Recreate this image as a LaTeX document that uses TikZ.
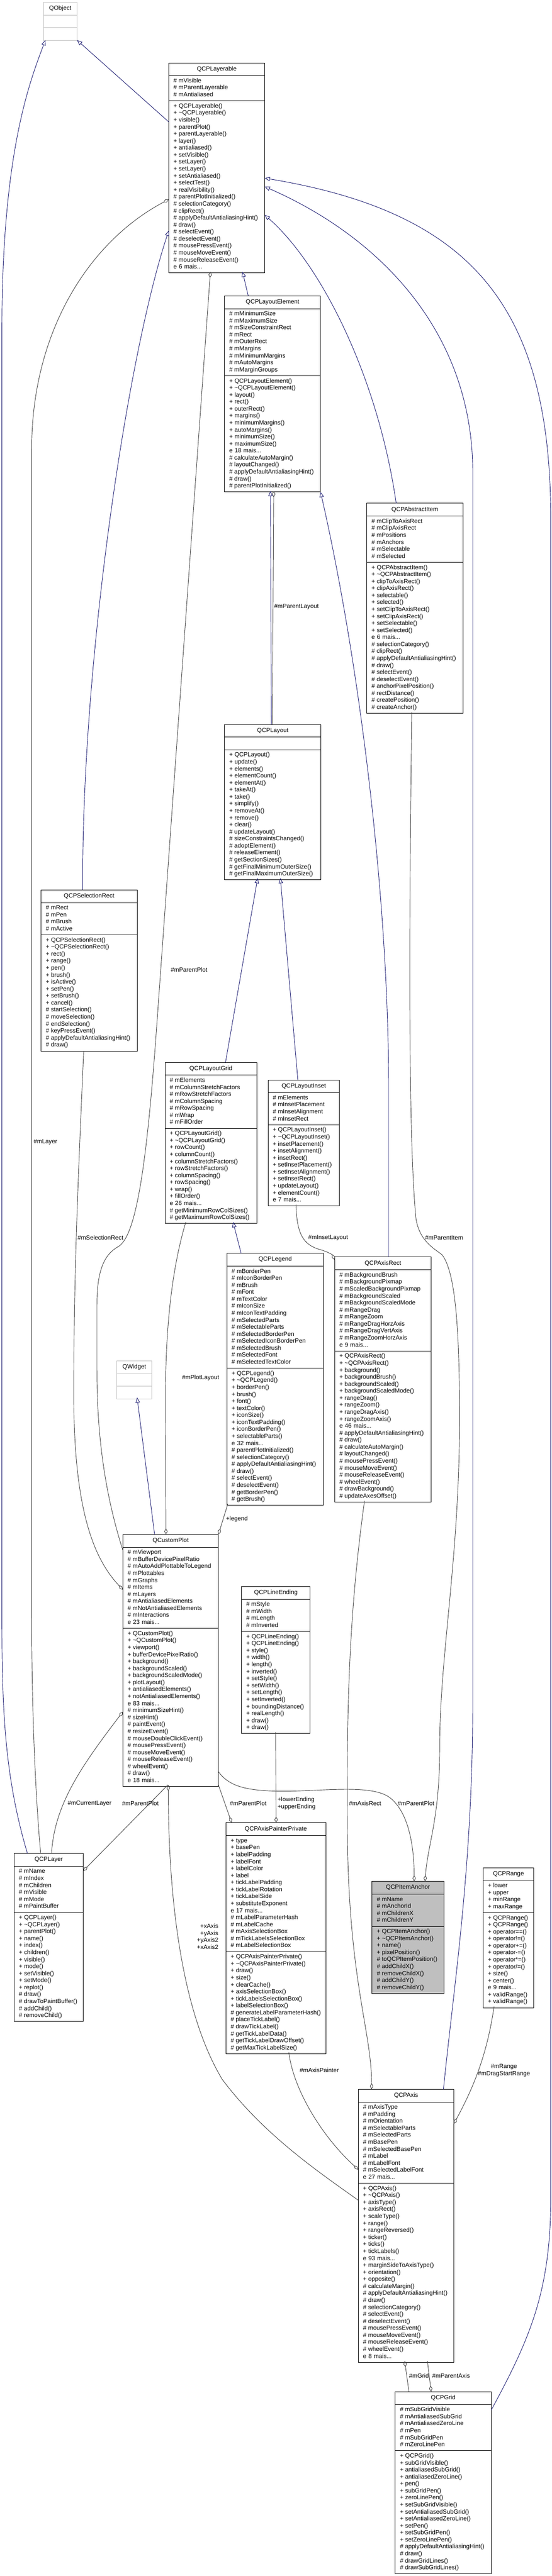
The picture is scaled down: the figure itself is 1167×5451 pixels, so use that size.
\documentclass[tikz,border=0pt]{standalone}
\usepackage{fontspec}
\setmainfont{Liberation Sans}
\usetikzlibrary{arrows.meta,shapes.multipart}
\definecolor{inhblue}{HTML}{191970}
\definecolor{agggray}{HTML}{404040}
\definecolor{extgray}{HTML}{BFBFBF}
\definecolor{focusgray}{HTML}{BFBFBF}
\newcommand\ttl[1]{\hfill\rule[-6pt]{0pt}{18pt}#1\hfill\null}
\newcommand\emp{\rule{0pt}{17.5pt}}
\newcommand\mprot{\#\kern.28em\relax}
\newcommand\mpub{+\kern.28em\relax}
\newcommand\dtor{\textasciitilde}
\tikzset{
  cls/.style={rectangle split, rectangle split parts=3, draw=black, fill=white, line width=1pt,
    anchor=north west, outer sep=0pt, inner xsep=10pt, inner ysep=4pt, align=left,
    font=\fontsize{12.8}{14.8}\selectfont},
  ext/.style={draw=extgray},
  focus/.style={fill=focusgray},
  inh/.style={draw=inhblue, line width=1pt, -{Triangle[open,length=11pt,width=9pt]}},
  agg/.style={draw=agggray, line width=1pt, -{Diamond[open,length=13pt,width=7pt]}},
  lbl/.style={inner sep=0pt, anchor=west, font=\fontsize{12.8}{14.8}\selectfont}
}
\begin{document}
\begin{tikzpicture}[x=1pt,y=-1pt]
\useasboundingbox (0,0) rectangle (1167,5451);

\node[cls,ext,text width=51pt] (QObject) at (92,5) {\ttl{QObject}\nodepart{two}\emp\nodepart{three}\emp};

\node[cls,text width=183pt] (Layerable) at (357,133) {\ttl{QCPLayerable}\nodepart{two}\strut\mprot mVisible\\\mprot mParentLayerable\\\mprot mAntialiased\strut
  \nodepart{three}\strut\mpub QCPLayerable()\\\mpub\dtor QCPLayerable()\\\mpub visible()\\\mpub parentPlot()\\\mpub parentLayerable()\\\mpub layer()\\\mpub antialiased()\\\mpub setVisible()\\\mpub setLayer()\\\mpub setLayer()\\\mpub setAntialiased()\\\mpub selectTest()\\\mpub realVisibility()\\\mprot parentPlotInitialized()\\\mprot selectionCategory()\\\mprot clipRect()\\\mprot applyDefaultAntialiasingHint()\\\mprot draw()\\\mprot selectEvent()\\\mprot deselectEvent()\\\mprot mousePressEvent()\\\mprot mouseMoveEvent()\\\mprot mouseReleaseEvent()\\e 6 mais...\strut};

\node[cls,text width=183pt] (LayoutElement) at (475,626) {\ttl{QCPLayoutElement}\nodepart{two}\strut\mprot mMinimumSize\\\mprot mMaximumSize\\\mprot mSizeConstraintRect\\\mprot mRect\\\mprot mOuterRect\\\mprot mMargins\\\mprot mMinimumMargins\\\mprot mAutoMargins\\\mprot mMarginGroups\strut
  \nodepart{three}\strut\mpub QCPLayoutElement()\\\mpub\dtor QCPLayoutElement()\\\mpub layout()\\\mpub rect()\\\mpub outerRect()\\\mpub margins()\\\mpub minimumMargins()\\\mpub autoMargins()\\\mpub minimumSize()\\\mpub maximumSize()\\e 18 mais...\\\mprot calculateAutoMargin()\\\mprot layoutChanged()\\\mprot applyDefaultAntialiasingHint()\\\mprot draw()\\\mprot parentPlotInitialized()\strut};

\node[cls,text width=183pt] (AbstractItem) at (776,1065) {\ttl{QCPAbstractItem}\nodepart{two}\strut\mprot mClipToAxisRect\\\mprot mClipAxisRect\\\mprot mPositions\\\mprot mAnchors\\\mprot mSelectable\\\mprot mSelected\strut
  \nodepart{three}\strut\mpub QCPAbstractItem()\\\mpub\dtor QCPAbstractItem()\\\mpub clipToAxisRect()\\\mpub clipAxisRect()\\\mpub selectable()\\\mpub selected()\\\mpub setClipToAxisRect()\\\mpub setClipAxisRect()\\\mpub setSelectable()\\\mpub setSelected()\\e 6 mais...\\\mprot selectionCategory()\\\mprot clipRect()\\\mprot applyDefaultAntialiasingHint()\\\mprot draw()\\\mprot selectEvent()\\\mprot deselectEvent()\\\mprot anchorPixelPosition()\\\mprot rectDistance()\\\mprot createPosition()\\\mprot createAnchor()\strut};

\node[cls,text width=184pt] (Layout) at (475,1533) {\ttl{QCPLayout}\nodepart{two}\emp
  \nodepart{three}\strut\mpub QCPLayout()\\\mpub update()\\\mpub elements()\\\mpub elementCount()\\\mpub elementAt()\\\mpub takeAt()\\\mpub take()\\\mpub simplify()\\\mpub removeAt()\\\mpub remove()\\\mpub clear()\\\mprot updateLayout()\\\mprot sizeConstraintsChanged()\\\mprot adoptElement()\\\mprot releaseElement()\\\mprot getSectionSizes()\\\mprot getFinalMinimumOuterSize()\\\mprot getFinalMaximumOuterSize()\strut};

\node[cls,text width=183pt] (SelectionRect) at (87,1883) {\ttl{QCPSelectionRect}\nodepart{two}\strut\mprot mRect\\\mprot mPen\\\mprot mBrush\\\mprot mActive\strut
  \nodepart{three}\strut\mpub QCPSelectionRect()\\\mpub\dtor QCPSelectionRect()\\\mpub rect()\\\mpub range()\\\mpub pen()\\\mpub brush()\\\mpub isActive()\\\mpub setPen()\\\mpub setBrush()\\\mpub cancel()\\\mprot startSelection()\\\mprot moveSelection()\\\mprot endSelection()\\\mprot keyPressEvent()\\\mprot applyDefaultAntialiasingHint()\\\mprot draw()\strut};

\node[cls,text width=174pt] (LayoutGrid) at (349,2248) {\ttl{QCPLayoutGrid}\nodepart{two}\strut\mprot mElements\\\mprot mColumnStretchFactors\\\mprot mRowStretchFactors\\\mprot mColumnSpacing\\\mprot mRowSpacing\\\mprot mWrap\\\mprot mFillOrder\strut
  \nodepart{three}\strut\mpub QCPLayoutGrid()\\\mpub\dtor QCPLayoutGrid()\\\mpub rowCount()\\\mpub columnCount()\\\mpub columnStretchFactors()\\\mpub rowStretchFactors()\\\mpub columnSpacing()\\\mpub rowSpacing()\\\mpub wrap()\\\mpub fillOrder()\\e 26 mais...\\\mprot getMinimumRowColSizes()\\\mprot getMaximumRowColSizes()\strut};

\node[cls,text width=131pt] (LayoutInset) at (567,2285) {\ttl{QCPLayoutInset}\nodepart{two}\strut\mprot mElements\\\mprot mInsetPlacement\\\mprot mInsetAlignment\\\mprot mInsetRect\strut
  \nodepart{three}\strut\mpub QCPLayoutInset()\\\mpub\dtor QCPLayoutInset()\\\mpub insetPlacement()\\\mpub insetAlignment()\\\mpub insetRect()\\\mpub setInsetPlacement()\\\mpub setInsetAlignment()\\\mpub setInsetRect()\\\mpub updateLayout()\\\mpub elementCount()\\e 7 mais...\strut};

\node[cls,text width=184pt] (Legend) at (480,2652) {\ttl{QCPLegend}\nodepart{two}\strut\mprot mBorderPen\\\mprot mIconBorderPen\\\mprot mBrush\\\mprot mFont\\\mprot mTextColor\\\mprot mIconSize\\\mprot mIconTextPadding\\\mprot mSelectedParts\\\mprot mSelectableParts\\\mprot mSelectedBorderPen\\\mprot mSelectedIconBorderPen\\\mprot mSelectedBrush\\\mprot mSelectedFont\\\mprot mSelectedTextColor\strut
  \nodepart{three}\strut\mpub QCPLegend()\\\mpub\dtor QCPLegend()\\\mpub borderPen()\\\mpub brush()\\\mpub font()\\\mpub textColor()\\\mpub iconSize()\\\mpub iconTextPadding()\\\mpub iconBorderPen()\\\mpub selectableParts()\\e 32 mais...\\\mprot parentPlotInitialized()\\\mprot selectionCategory()\\\mprot applyDefaultAntialiasingHint()\\\mprot draw()\\\mprot selectEvent()\\\mprot deselectEvent()\\\mprot getBorderPen()\\\mprot getBrush()\strut};

\node[cls,text width=184pt] (AxisRect) at (708,2660) {\ttl{QCPAxisRect}\nodepart{two}\strut\mprot mBackgroundBrush\\\mprot mBackgroundPixmap\\\mprot mScaledBackgroundPixmap\\\mprot mBackgroundScaled\\\mprot mBackgroundScaledMode\\\mprot mRangeDrag\\\mprot mRangeZoom\\\mprot mRangeDragHorzAxis\\\mprot mRangeDragVertAxis\\\mprot mRangeZoomHorzAxis\\e 9 mais...\strut
  \nodepart{three}\strut\mpub QCPAxisRect()\\\mpub\dtor QCPAxisRect()\\\mpub background()\\\mpub backgroundBrush()\\\mpub backgroundScaled()\\\mpub backgroundScaledMode()\\\mpub rangeDrag()\\\mpub rangeZoom()\\\mpub rangeDragAxis()\\\mpub rangeZoomAxis()\\e 46 mais...\\\mprot applyDefaultAntialiasingHint()\\\mprot draw()\\\mprot calculateAutoMargin()\\\mprot layoutChanged()\\\mprot mousePressEvent()\\\mprot mouseMoveEvent()\\\mprot mouseReleaseEvent()\\\mprot wheelEvent()\\\mprot drawBackground()\\\mprot updateAxesOffset()\strut};

\node[cls,ext,text width=54pt] (QWidget) at (247,2880) {\ttl{QWidget}\nodepart{two}\emp\nodepart{three}\emp};

\node[cls,text width=182pt] (CustomPlot) at (260,3247) {\ttl{QCustomPlot}\nodepart{two}\strut\mprot mViewport\\\mprot mBufferDevicePixelRatio\\\mprot mAutoAddPlottableToLegend\\\mprot mPlottables\\\mprot mGraphs\\\mprot mItems\\\mprot mLayers\\\mprot mAntialiasedElements\\\mprot mNotAntialiasedElements\\\mprot mInteractions\\e 23 mais...\strut
  \nodepart{three}\strut\mpub QCustomPlot()\\\mpub\dtor QCustomPlot()\\\mpub viewport()\\\mpub bufferDevicePixelRatio()\\\mpub background()\\\mpub backgroundScaled()\\\mpub backgroundScaledMode()\\\mpub plotLayout()\\\mpub antialiasedElements()\\\mpub notAntialiasedElements()\\e 83 mais...\\\mprot minimumSizeHint()\\\mprot sizeHint()\\\mprot paintEvent()\\\mprot resizeEvent()\\\mprot mouseDoubleClickEvent()\\\mprot mousePressEvent()\\\mprot mouseMoveEvent()\\\mprot mouseReleaseEvent()\\\mprot wheelEvent()\\\mprot draw()\\e 18 mais...\strut};

\node[cls,text width=125pt] (LineEnding) at (511,3357) {\ttl{QCPLineEnding}\nodepart{two}\strut\mprot mStyle\\\mprot mWidth\\\mprot mLength\\\mprot mInverted\strut
  \nodepart{three}\strut\mpub QCPLineEnding()\\\mpub QCPLineEnding()\\\mpub style()\\\mpub width()\\\mpub length()\\\mpub inverted()\\\mpub setStyle()\\\mpub setWidth()\\\mpub setLength()\\\mpub setInverted()\\\mpub boundingDistance()\\\mpub realLength()\\\mpub draw()\\\mpub draw()\strut};

\node[cls,text width=126pt] (Layer) at (30,3922) {\ttl{QCPLayer}\nodepart{two}\strut\mprot mName\\\mprot mIndex\\\mprot mChildren\\\mprot mVisible\\\mprot mMode\\\mprot mPaintBuffer\strut
  \nodepart{three}\strut\mpub QCPLayer()\\\mpub\dtor QCPLayer()\\\mpub parentPlot()\\\mpub name()\\\mpub index()\\\mpub children()\\\mpub visible()\\\mpub mode()\\\mpub setVisible()\\\mpub setMode()\\\mpub replot()\\\mprot draw()\\\mprot drawToPaintBuffer()\\\mprot addChild()\\\mprot removeChild()\strut};

\node[cls,text width=191pt] (AxisPainter) at (478,3857) {\ttl{QCPAxisPainterPrivate}\nodepart{two}\strut\mpub type\\\mpub basePen\\\mpub labelPadding\\\mpub labelFont\\\mpub labelColor\\\mpub label\\\mpub tickLabelPadding\\\mpub tickLabelRotation\\\mpub tickLabelSide\\\mpub substituteExponent\\e 17 mais...\\\mprot mLabelParameterHash\\\mprot mLabelCache\\\mprot mAxisSelectionBox\\\mprot mTickLabelsSelectionBox\\\mprot mLabelSelectionBox\strut
  \nodepart{three}\strut\mpub QCPAxisPainterPrivate()\\\mpub\dtor QCPAxisPainterPrivate()\\\mpub draw()\\\mpub size()\\\mpub clearCache()\\\mpub axisSelectionBox()\\\mpub tickLabelsSelectionBox()\\\mpub labelSelectionBox()\\\mprot generateLabelParameterHash()\\\mprot placeTickLabel()\\\mprot drawTickLabel()\\\mprot getTickLabelData()\\\mprot getTickLabelDrawOffset()\\\mprot getMaxTickLabelSize()\strut};

\node[cls,focus,text width=132pt] (ItemAnchor) at (787,3981) {\ttl{QCPItemAnchor}\nodepart{two}\strut\mprot mName\\\mprot mAnchorId\\\mprot mChildrenX\\\mprot mChildrenY\strut
  \nodepart{three}\strut\mpub QCPItemAnchor()\\\mpub\dtor QCPItemAnchor()\\\mpub name()\\\mpub pixelPosition()\\\mprot toQCPItemPosition()\\\mprot addChildX()\\\mprot removeChildX()\\\mprot addChildY()\\\mprot removeChildY()\strut};

\node[cls,text width=87pt] (Range) at (1022,3952) {\ttl{QCPRange}\nodepart{two}\strut\mpub lower\\\mpub upper\\\mpub minRange\\\mpub maxRange\strut
  \nodepart{three}\strut\mpub QCPRange()\\\mpub QCPRange()\\\mpub operator==()\\\mpub operator!=()\\\mpub operator+=()\\\mpub operator-=()\\\mpub operator*=()\\\mpub operator/=()\\\mpub size()\\\mpub center()\\e 9 mais...\\\mpub validRange()\\\mpub validRange()\strut};

\node[cls,text width=182pt] (Axis) at (758,4421) {\ttl{QCPAxis}\nodepart{two}\strut\mprot mAxisType\\\mprot mPadding\\\mprot mOrientation\\\mprot mSelectableParts\\\mprot mSelectedParts\\\mprot mBasePen\\\mprot mSelectedBasePen\\\mprot mLabel\\\mprot mLabelFont\\\mprot mSelectedLabelFont\\e 27 mais...\strut
  \nodepart{three}\strut\mpub QCPAxis()\\\mpub\dtor QCPAxis()\\\mpub axisType()\\\mpub axisRect()\\\mpub scaleType()\\\mpub range()\\\mpub rangeReversed()\\\mpub ticker()\\\mpub ticks()\\\mpub tickLabels()\\e 93 mais...\\\mpub marginSideToAxisType()\\\mpub orientation()\\\mpub opposite()\\\mprot calculateMargin()\\\mprot applyDefaultAntialiasingHint()\\\mprot draw()\\\mprot selectionCategory()\\\mprot selectEvent()\\\mprot deselectEvent()\\\mprot mousePressEvent()\\\mprot mouseMoveEvent()\\\mprot mouseReleaseEvent()\\\mprot wheelEvent()\\e 8 mais...\strut};

\node[cls,text width=183pt] (Grid) at (836,5061) {\ttl{QCPGrid}\nodepart{two}\strut\mprot mSubGridVisible\\\mprot mAntialiasedSubGrid\\\mprot mAntialiasedZeroLine\\\mprot mPen\\\mprot mSubGridPen\\\mprot mZeroLinePen\strut
  \nodepart{three}\strut\mpub QCPGrid()\\\mpub subGridVisible()\\\mpub antialiasedSubGrid()\\\mpub antialiasedZeroLine()\\\mpub pen()\\\mpub subGridPen()\\\mpub zeroLinePen()\\\mpub setSubGridVisible()\\\mpub setAntialiasedSubGrid()\\\mpub setAntialiasedZeroLine()\\\mpub setPen()\\\mpub setSubGridPen()\\\mpub setZeroLinePen()\\\mprot applyDefaultAntialiasingHint()\\\mprot draw()\\\mprot drawGridLines()\\\mprot drawSubGridLines()\strut};

\draw[inh] ([shift={(0,125)}]Layerable.north west) -- (QObject.south east);
\draw[inh] ([shift={(28,0)}]Layer.north west) .. controls (10,3760) and (4,3620) .. (4,3420) -- (4,700) .. controls (4,330) and (60,180) .. ([shift={(4,0)}]QObject.south west);
\draw[inh] ([shift={(88,0)}]SelectionRect.north west) .. controls (172,1400) and (270,750) .. ([shift={(0,355)}]Layerable.north west);
\draw[inh] ([shift={(50,0)}]LayoutElement.north west) -- ([shift={(156,442)}]Layerable.north west);
\draw[inh] ([shift={(62,0)}]AbstractItem.north west) .. controls (800,800) and (680,560) .. ([shift={(203,322)}]Layerable.north west);
\draw[inh] ([shift={(180,0)}]Axis.north west) .. controls (960,4200) and (1000,3950) .. (1000,3600) -- (1000,1000) .. controls (1000,700) and (800,500) .. ([shift={(203,262)}]Layerable.north west);
\draw[inh] ([shift={(203,39)}]Grid.north west) .. controls (1120,4950) and (1165,4850) .. (1165,4650) -- (1165,1100) .. controls (1165,650) and (1000,450) .. ([shift={(203,244)}]Layerable.north west);
\draw[inh] ([shift={(99,0)}]Layout.north west) -- ([shift={(97,413)}]LayoutElement.north west);
\draw[inh] ([shift={(128,0)}]LayoutGrid.north west) -- ([shift={(70,325)}]Layout.north west);
\draw[inh] ([shift={(63,0)}]LayoutInset.north west) -- ([shift={(118,325)}]Layout.north west);
\draw[inh] ([shift={(30,0)}]Legend.north west) -- ([shift={(144,338)}]LayoutGrid.north west);
\draw[inh] ([shift={(114,0)}]AxisRect.north west) -- (822,2300) .. controls (822,1900) and (760,1400) .. (LayoutElement.south east);
\draw[inh] ([shift={(67,0)}]CustomPlot.north west) -- ([shift={(43,77)}]QWidget.north west);

\draw[agg] ([shift={(101,0)}]Layout.north west) -- ([shift={(104,413)}]LayoutElement.north west);
\draw[agg] ([shift={(56,0)}]Layer.north west) .. controls (75,3800) and (67,3620) .. (67,3420) -- (67,950) .. controls (67,700) and (190,510) .. ([shift={(0,289)}]Layerable.north west);
\draw[agg] ([shift={(0,34)}]CustomPlot.north west) .. controls (228,3180) and (205,3060) .. (205,2900) -- (205,2760) .. controls (205,2680) and (225,2652) .. (250,2638) .. controls (290,2615) and (312,2450) .. (333,2150) -- ([shift={(88,442)}]Layerable.north west);
\draw[agg] ([shift={(90,0)}]SelectionRect.south west) .. controls (165,2500) and (156,2700) .. (156,2950) .. controls (156,3200) and (200,3300) .. ([shift={(0,117)}]CustomPlot.north west);
\draw[agg] ([shift={(44,338)}]LayoutGrid.north west) .. controls (365,2680) and (350,2800) .. (350,2960) -- ([shift={(91,0)}]CustomPlot.north west);
\draw[agg] ([shift={(2,530)}]Legend.north west) -- ([shift={(202,0)}]CustomPlot.north west);
\draw[agg] ([shift={(59,264)}]LayoutInset.north west) .. controls (628,2610) and (640,2635) .. (680,2645) .. controls (695,2650) and (703,2655) .. ([shift={(0,6)}]AxisRect.north west);
\draw[agg] ([shift={(95,442)}]AbstractItem.north west) .. controls (866,1900) and (862,2400) .. (880,2580) .. controls (888,2625) and (915,2640) .. (935,2655) .. controls (962,2690) and (972,2800) .. (972,3000) .. controls (972,3300) and (930,3500) .. (930,3700) .. controls (930,3850) and (905,3900) .. ([shift={(112,0)}]ItemAnchor.north west);
\draw[agg] ([shift={(202,502)}]CustomPlot.north west) .. controls (485,3780) and (520,3792) .. (620,3790) .. controls (700,3788) and (785,3778) .. (822,3802) .. controls (862,3830) and (876,3900) .. ([shift={(89,0)}]ItemAnchor.north west);
\draw[agg] ([shift={(63,516)}]AxisRect.north west) .. controls (740,3400) and (732,3600) .. (735,3900) .. controls (740,4200) and (786,4300) .. ([shift={(28,0)}]Axis.north west);
\draw[agg] ([shift={(202,530)}]CustomPlot.north west) -- ([shift={(12,0)}]AxisPainter.north west);
\draw[agg] ([shift={(95,530)}]CustomPlot.north west) -- ([shift={(146,37)}]Layer.north west);
\draw[agg] ([shift={(79,0)}]Layer.north west) .. controls (115,3820) and (170,3740) .. ([shift={(0,375)}]CustomPlot.north west);
\draw[agg] ([shift={(72,308)}]LineEnding.north west) -- ([shift={(106,0)}]AxisPainter.north west);
\draw[agg] ([shift={(0,235)}]Axis.north west) .. controls (680,4600) and (560,4520) .. (470,4400) .. controls (380,4250) and (356,4000) .. ([shift={(96,530)}]CustomPlot.north west);
\draw[agg] ([shift={(133,486)}]AxisPainter.north west) .. controls (620,4420) and (680,4520) .. ([shift={(0,170)}]Axis.north west);
\draw[agg] ([shift={(23,294)}]Range.north west) .. controls (1030,4350) and (1000,4420) .. ([shift={(202,73)}]Axis.north west);
\draw[agg] ([shift={(29,0)}]Grid.north west) -- ([shift={(98,575)}]Axis.north west);
\draw[agg] ([shift={(146,575)}]Axis.north west) -- ([shift={(76,0)}]Grid.north west);

\node[lbl] (lParentLayout) at (580,1284) {\#mParentLayout};
\node[lbl] (lParentPlotA) at (361,2052) {\#mParentPlot};
\node[lbl] (lLayer) at (71,2417) {\#mLayer};
\node[lbl] (lSelectionRect) at (164,2619) {\#mSelectionRect};
\node[lbl] (lInsetLayout) at (652,2619) {\#mInsetLayout};
\node[lbl] (lParentItem) at (899,2619) {\#mParentItem};
\node[lbl] (lPlotLayout) at (385,2916) {\#mPlotLayout};
\node[lbl] (lLegend) at (478,3214) {+legend};
\node[lbl] (lCurrentLayer) at (143,3816) {\#mCurrentLayer};
\node[lbl] (lParentPlotB) at (258,3816) {\#mParentPlot};
\node[lbl] (lParentPlotC) at (486,3816) {\#mParentPlot};
\node[lbl,align=left] (lEndings) at (587,3816) {+lowerEnding\\+upperEnding};
\node[lbl] (lAxisRect) at (738,3816) {\#mAxisRect};
\node[lbl] (lParentPlotD) at (841,3816) {\#mParentPlot};
\node[lbl,anchor=east,align=right] (lAxes) at (462,4098) {+xAxis\\+yAxis\\+yAxis2\\+xAxis2};
\node[lbl] (lAxisPainter) at (634,4381) {\#mAxisPainter};
\node[lbl,anchor=center,align=center] (lRange) at (1066,4381) {\#mRange\\\#mDragStartRange};
\node[lbl] (lGrid) at (865,5027) {\#mGrid};
\node[lbl] (lParentAxis) at (914,5027) {\#mParentAxis};
\end{tikzpicture}
\end{document}
